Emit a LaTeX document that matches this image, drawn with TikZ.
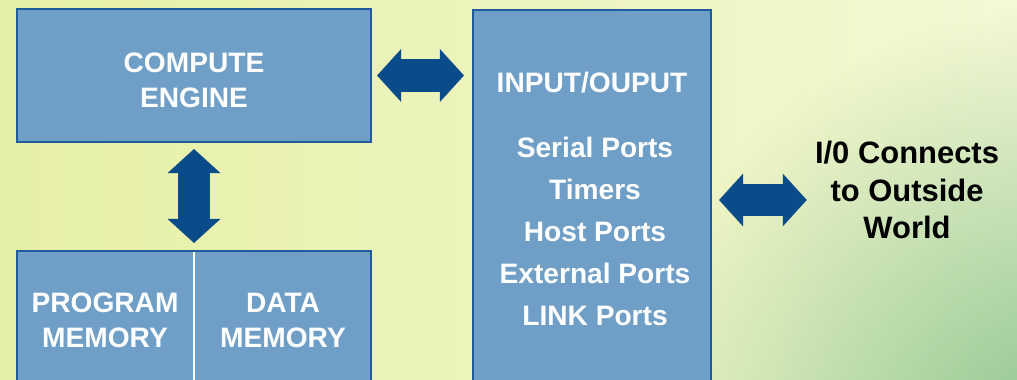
\documentclass[tikz,border=0pt]{standalone}
\usepackage{fontspec}
\setmainfont{Liberation Sans}
\usetikzlibrary{arrows.meta,fadings}

\definecolor{boxfill}{HTML}{6F9FC7}
\definecolor{boxline}{HTML}{1F5C9C}
\definecolor{busblue}{HTML}{0A4C8A}
\definecolor{bgleft}{HTML}{E6EFA6}
\definecolor{bgright}{HTML}{F4F8D4}
\definecolor{bggreen}{HTML}{88C28A}
\tikzfading[name=glow,inner color=transparent!0,outer color=transparent!100]

\begin{document}
\begin{tikzpicture}[x=0.025cm,y=-0.025cm]
\tikzstyle{blk}=[draw=boxline,fill=boxfill,line width=0.05cm,inner sep=0pt];
\tikzstyle{lbl}=[text=white,inner sep=0pt,align=center,font=\fontsize{20}{24.8}\selectfont\bfseries];
\tikzstyle{bus}=[busblue,line width=0.8cm,
  {Triangle[length=0.6cm,width=1.32cm,line width=0pt]}-{Triangle[length=0.6cm,width=1.32cm,line width=0pt]}];
% background
\useasboundingbox (0,0) rectangle (1017,380);
\clip (0,0) rectangle (1017,380);
\shade[left color=bgleft,right color=bgright] (0,0) rectangle (1017,380);
\fill[bggreen,path fading=glow] (1070,460) circle (450);
% blocks
\node [blk,minimum width=8.85cm,minimum height=3.325cm] (ce) at (194,75.5) {};
\node [lbl] (cet) at (194,80.5) {COMPUTE\\ENGINE};
\node [blk,minimum width=8.85cm,minimum height=4cm,anchor=north] (mem) at (194,250) {};
\draw [white,line width=0.05cm,shorten <=0.05cm] (mem.north) -- (mem.south);
\node [lbl] (pm) at (105,320.5) {PROGRAM\\MEMORY};
\node [lbl] (dm) at (283,320.5) {DATA\\MEMORY};
\node [blk,minimum width=5.95cm,minimum height=9.5cm] (io) at (592,200) {};
\node [lbl] (iot) at (592,83) {INPUT/OUPUT};
\node [lbl,font=\fontsize{20}{29.8}\selectfont\bfseries] (iol) at (595,231.5)
  {Serial Ports\\Timers\\Host Ports\\External Ports\\LINK Ports};
\node [inner sep=0pt,align=center,font=\fontsize{22}{26.9}\selectfont\bfseries] (ow) at (907,190)
  {I/0 Connects\\to Outside\\World};
% buses
\draw [bus,shorten <=0.125cm,shorten >=0.2cm] (ce.east) -- (ce.east -| io.west);
\draw [bus,shorten <=0.15cm,shorten >=0.175cm] (ce.south) -- (mem.north);
\draw [bus,shorten <=0.175cm,shorten >=0.2cm] (io.east) -- (io.east -| ow.west);
\end{tikzpicture}
\end{document}
